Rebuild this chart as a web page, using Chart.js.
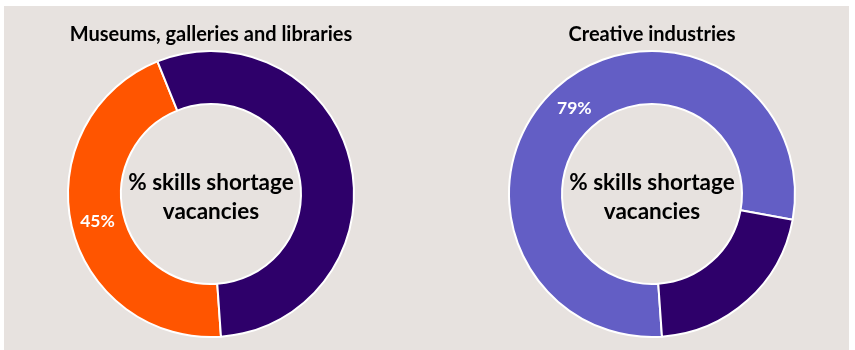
<!DOCTYPE html>
<html>
<head>
<meta charset="utf-8">
<script src="https://cdn.jsdelivr.net/npm/chart.js@4.4.1/dist/chart.umd.min.js"></script>
<style>
  html, body { margin: 0; padding: 0; background: #ffffff; }
  #wrap { position: relative; width: 855px; height: 350px; overflow: hidden; }
  #panel { position: absolute; left: 4px; top: 6px; width: 845px; height: 344px; background: #e7e2df; }
  .box { position: absolute; top: 6px; width: 300px; height: 344px; }
  #boxLeft { left: 61px; }
  #boxRight { left: 502px; }
</style>
</head>
<body>
<div id="wrap">
  <div id="panel"></div>
  <div class="box" id="boxLeft"><canvas id="museumsChart"></canvas></div>
  <div class="box" id="boxRight"><canvas id="creativeChart"></canvas></div>
</div>
<script>
// Data
const sectorTitles = ["Museums, galleries and libraries", "Creative industries"];
const segmentLabels = ["Skills shortage vacancies", "Other vacancies"];
const shortageShare = [45, 79];
const otherShare = [55, 21];
const centreText = ["% skills shortage", "vacancies"];

const FONT = "Lato, 'Open Sans', sans-serif";

// writes the % value on the skills shortage slice and the caption in the hole
const doughnutText = {
  id: "doughnutText",
  afterDatasetsDraw(chart) {
    const ctx = chart.ctx;
    const meta = chart.getDatasetMeta(0);
    const arc = meta.data[0];
    const pos = arc.tooltipPosition();
    ctx.save();
    ctx.fillStyle = "#ffffff";
    ctx.font = "bold 17.5px " + FONT;
    ctx.textAlign = "center";
    ctx.textBaseline = "middle";
    ctx.fillText(chart.data.datasets[0].data[0] + "%", pos.x, pos.y + 1);

    const cx = arc.x;
    const cy = arc.y;
    ctx.fillStyle = "#000000";
    ctx.font = "bold 22.5px " + FONT;
    ctx.fillText(centreText[0], cx, cy - 11);
    ctx.fillText(centreText[1], cx, cy + 18);
    ctx.restore();
  },
};

function makeDoughnut(id, idx, colours) {
  return new Chart(document.getElementById(id), {
    type: "doughnut",
    data: {
      labels: segmentLabels,
      datasets: [
        {
          data: [shortageShare[idx], otherShare[idx]],
          backgroundColor: colours,
          borderColor: "#ffffff",
          borderWidth: 2,
        },
      ],
    },
    options: {
      responsive: true,
      maintainAspectRatio: false,
      animation: false,
      rotation: 176,
      radius: 143,
      cutout: 90,
      layout: { padding: { bottom: 12 } },
      plugins: {
        legend: { display: false },
        tooltip: { enabled: false },
        title: {
          display: true,
          text: sectorTitles[idx],
          color: "#000000",
          font: { family: FONT, size: 20, weight: "bold" },
          padding: { top: 17, bottom: 3 },
        },
      },
    },
    plugins: [doughnutText],
  });
}

document.addEventListener("DOMContentLoaded", function () {
  makeDoughnut("museumsChart", 0, ["#ff5500", "#2e006a"]);
  makeDoughnut("creativeChart", 1, ["#635ec5", "#2e006a"]);
});
</script>
</body>
</html>
